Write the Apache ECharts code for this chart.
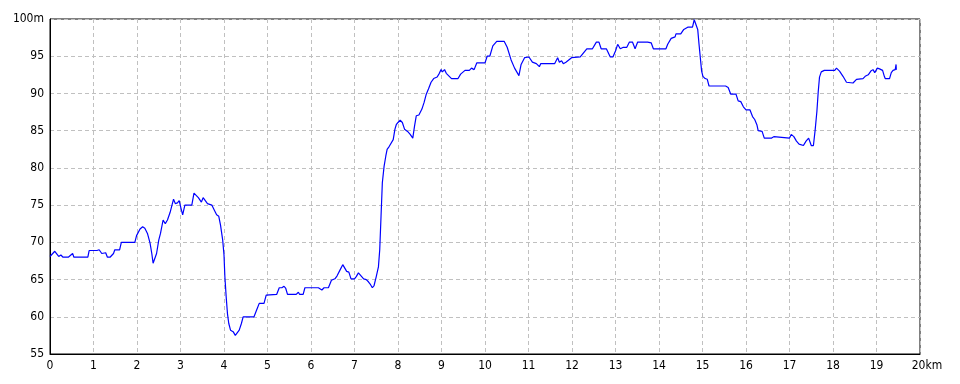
<!DOCTYPE html>
<html>
<head>
<meta charset="utf-8">
<script src="https://cdn.jsdelivr.net/npm/echarts@6/dist/echarts.min.js"></script>
<style>html,body{margin:0;padding:0;background:#fff;}#c{width:960px;height:384px;}</style>
</head>
<body>
<div id="c"></div>
<script>
const distanceKm = [
0,0.11,0.2,0.25,0.3,0.42,0.46,0.52,0.55,0.8,0.84,0.87,0.9,1.08,1.13,1.19,1.23,1.28,1.32,1.38,1.46,1.49,1.6,1.64,1.95,1.99,2.03,2.07,2.13,2.18,2.24,2.3,2.34,2.37,2.4,2.45,2.5,2.54,2.6,2.65,2.7,2.76,2.8,2.84,2.88,2.93,2.97,3.01,3.05,3.1,3.26,3.31,3.36,3.41,3.45,3.48,3.52,3.55,3.62,3.72,3.77,3.83,3.88,3.92,3.97,4.0,4.02,4.05,4.08,4.11,4.15,4.21,4.26,4.3,4.35,4.4,4.44,4.69,4.75,4.81,4.92,4.97,5.21,5.27,5.33,5.38,5.42,5.46,5.66,5.71,5.74,5.82,5.86,6.17,6.25,6.3,6.4,6.47,6.55,6.6,6.66,6.73,6.76,6.82,6.87,6.92,7.0,7.04,7.09,7.15,7.21,7.27,7.32,7.36,7.41,7.45,7.5,7.55,7.58,7.61,7.64,7.68,7.72,7.75,7.8,7.84,7.89,7.93,7.96,8.0,8.05,8.1,8.15,8.22,8.28,8.34,8.38,8.42,8.48,8.55,8.6,8.65,8.7,8.76,8.82,8.9,8.95,8.99,9.02,9.07,9.11,9.23,9.38,9.44,9.54,9.64,9.69,9.75,9.81,10.0,10.05,10.11,10.18,10.27,10.44,10.51,10.6,10.68,10.78,10.83,10.91,11.01,11.09,11.18,11.25,11.28,11.52,11.56,11.6,11.67,11.71,11.76,11.8,11.86,11.9,11.99,12.19,12.34,12.47,12.56,12.62,12.67,12.79,12.88,12.94,13.0,13.05,13.11,13.18,13.26,13.32,13.39,13.45,13.51,13.74,13.82,13.87,14.16,14.2,14.28,14.37,14.39,14.5,14.57,14.66,14.77,14.81,14.85,14.89,14.92,14.95,14.98,15.01,15.06,15.11,15.15,15.53,15.59,15.65,15.77,15.82,15.88,15.94,16.0,16.09,16.15,16.2,16.25,16.28,16.37,16.42,16.59,16.64,16.68,17.0,17.04,17.1,17.16,17.22,17.25,17.32,17.38,17.44,17.47,17.5,17.55,17.59,17.63,17.66,17.69,17.73,17.8,17.94,18.04,18.08,18.15,18.23,18.31,18.46,18.54,18.58,18.69,18.74,18.81,18.87,18.92,18.96,19.02,19.07,19.14,19.18,19.2,19.3,19.34,19.38,19.43,19.45,19.455,19.46
];
const elevationM = [
68.1,68.8,68.1,68.3,68,68,68.2,68.5,68,68,68.2,68,68.9,68.9,69,68.5,68.3,68.6,68,68,68.5,69,69,70,70,70.9,71,71.8,72.1,71.9,71.2,69.9,68.5,67.2,67,68.5,70.3,71.2,73,72.5,73,74,74,75.8,75.2,75.3,75.6,74.6,73.7,75,75,76.6,76.3,76,75.9,75.4,76,75.9,75.2,75,74.4,73.7,73.5,72.3,70.3,68.3,65.4,62.7,60.4,59.1,58.2,58,57.5,57.5,58.2,59.1,60,60,60.9,61.8,61.8,62.9,63,63.9,63.9,64.1,63.8,63,63,63.3,63,63,63.9,63.9,63.6,63.9,63.9,64.9,65.1,65.5,66.2,67,66.9,66.1,66,65.1,65.1,65.4,65.9,65.5,65.1,65,64.7,64.4,63.9,64.2,65.4,66.7,69,73.5,78,80.2,81.6,82.5,82.9,83.1,83.8,85.2,85.8,86.1,86.4,86.1,85.2,84.9,84.5,84,85.6,87,87.1,87.9,88.8,89.9,90.6,91.5,92,92.2,92.7,93.2,92.9,93.2,92.7,92,92,92.6,93.1,93.1,93.4,93.2,94.1,94.1,95,95,96.4,97,97,96.2,94.5,93.4,92.4,93.9,94.8,94.9,94.2,94,93.6,94,94,94.2,94,94.8,94.2,94.4,94,94.2,94,94.8,94.9,96,96,96.9,96.9,96,96,94.9,94.9,95.7,96.6,96,96.2,96.2,96.9,96.9,96,96.9,96.9,96.8,96,96,96.6,97.4,97.6,98,98,98.6,98.9,98.9,99.9,99.8,98.6,96.6,94.8,93,92.3,92,91.9,91,91,90.8,89.9,89.9,89,88.9,88.2,87.8,87.8,86.9,86.5,85.8,85,84.9,84,84,84.2,84,84,84.5,84.2,83.6,83.2,83,83,83.6,84,83.9,83,83,85.1,87.6,90.2,92.2,92.9,93.1,93.1,93.1,93.4,93,92.3,91.5,91.4,91.9,92,92,92.3,92.5,93,93.2,92.8,93.4,93.3,93.1,92.3,92,92,92.8,93.1,93.2,93.9,93.2,93.3,94.1
];
const xTicks = [0,1,2,3,4,5,6,7,8,9,10,11,12,13,14,15,16,17,18,19,20];
const yTicks = [55,60,65,70,75,80,85,90,95,100];

const chart = echarts.init(document.getElementById('c'), null, {renderer:'canvas'});
const FONT = '"Liberation Sans Narrow","DejaVu Sans Condensed","Liberation Sans",sans-serif';
chart.setOption({
  animation: false,
  backgroundColor: '#ffffff',
  grid: {left:50, right:40, top:19, bottom:30, show:true, borderColor:'#000', borderWidth:1, backgroundColor:'transparent'},
  xAxis: {
    type:'value', min:xTicks[0], max:xTicks[xTicks.length-1], interval:1,
    axisLine:{show:true, onZero:false, lineStyle:{color:'#000', width:1}},
    axisTick:{show:false},
    splitLine:{show:true, lineStyle:{color:'#c0c0c0', type:[4,3], width:1}},
    axisLabel:{
      color:'#000', fontSize:12, fontFamily:FONT, margin:6,
      formatter: v => v === 20 ? '{e|20km}' : String(v),
      rich:{e:{color:'#000', fontSize:12, fontFamily:FONT, padding:[0,0,0,14]}}
    }
  },
  yAxis: {
    type:'value', min:yTicks[0], max:yTicks[yTicks.length-1], interval:5,
    axisLine:{show:true, onZero:false, lineStyle:{color:'#000', width:1}},
    axisTick:{show:false},
    splitLine:{show:true, lineStyle:{color:'#c0c0c0', type:[4,3], width:1}},
    axisLabel:{
      color:'#000', fontSize:12, fontFamily:FONT, margin:6,
      formatter: v => v === 100 ? '100m' : String(v)
    }
  },
  series: [{
    type:'line',
    data: distanceKm.map((d,i)=>[d, elevationM[i]]),
    showSymbol:false, symbol:'none',
    lineStyle:{color:'#0000ff', width:1.2},
    z:5
  }]
});
</script>
</body>
</html>
